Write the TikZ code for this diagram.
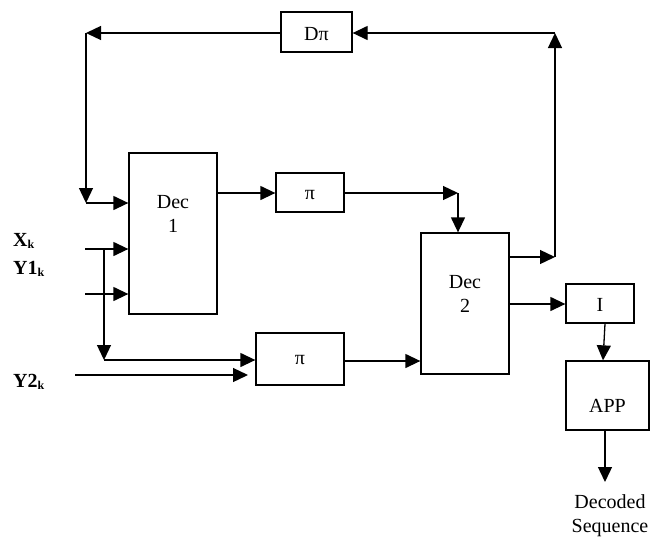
\documentclass[tikz,border=0pt]{standalone}
\usepackage{fontspec}
\setmainfont{Liberation Serif}
\usetikzlibrary{arrows.meta}
\begin{document}
\begin{tikzpicture}[x=1pt,y=-1pt,
  blk/.style={draw,line width=1.3pt,inner sep=0pt},
  con/.style={line width=1.3pt,-{Triangle[length=15pt,width=14pt]}},
  txt/.style={inner sep=0pt,font=\fontsize{20}{24}\selectfont},
  lbl/.style={inner sep=0pt,anchor=west,font=\fontsize{20}{24}\selectfont\bfseries}]
\useasboundingbox (0,0) rectangle (651,539);
% blocks
\node[blk,minimum width=71pt,minimum height=40pt] (dpi) at (316.5,32) {};
\node[txt] (dpit) at (316.5,34) {Dπ};
\node[blk,minimum width=88pt,minimum height=161pt] (dec1) at (173,233.5) {};
\node[txt,align=center] (dec1t) at (173,214) {Dec\\1};
\node[blk,minimum width=68pt,minimum height=39pt] (p1) at (310,192.5) {};
\node[txt] (p1t) at (310,195) {π};
\node[blk,minimum width=88pt,minimum height=141pt] (dec2) at (465,303.5) {};
\node[txt,align=center] (dec2t) at (465,294) {Dec\\2};
\node[blk,minimum width=88pt,minimum height=52pt] (p2) at (300,359) {};
\node[txt] (p2t) at (300,360) {π};
\node[blk,minimum width=68pt,minimum height=39pt] (ib) at (600,303.5) {};
\node[txt] (ibt) at (600,305) {I};
\node[blk,minimum width=83pt,minimum height=69pt] (app) at (607.5,395.5) {};
\node[txt] (appt) at (607.5,406) {APP};
\node[txt,align=center] (out) at (610,516) {Decoded\\Sequence};
% labels
\node[lbl] (xk) at (13,241) {X\raisebox{-2pt}{\fontsize{12}{14}\selectfont k}};
\node[lbl] (y1k) at (13,269) {Y1\raisebox{-2pt}{\fontsize{12}{14}\selectfont k}};
\node[lbl] (y2k) at (13,382) {Y2\raisebox{-2pt}{\fontsize{12}{14}\selectfont k}};
% coordinates
\coordinate (tl) at (86,33);
\coordinate (bl) at (86,203);
\coordinate (xs) at (85,249);
\coordinate (ys) at (85,294);
\coordinate (br) at (104,249);
\coordinate (brb) at (104,360);
\coordinate (y2s) at (75,375);
\coordinate (y2e) at (248,375);
\coordinate (pc) at (458,193);
\coordinate (rc) at (555,257);
\coordinate (rt) at (555,33);
\coordinate (ao) at (605,482);
% connectors
\draw[con] (dpi.west |- tl) -- (tl);
\draw[con] (tl) -- (bl);
\draw[con] (bl) -- (dec1.west |- bl);
\draw[con] (xs) -- (dec1.west |- xs);
\draw[con] (ys) -- (dec1.west |- ys);
\draw[con] (br) -- (brb);
\draw[con] (brb) -- (p2.west |- brb);
\draw[con] (y2s) -- (y2e);
\draw[con] (dec1.east |- pc) -- (p1.west |- pc);
\draw[con] (p1.east |- pc) -- (pc);
\draw[con] (pc) -- (pc |- dec2.north);
\draw[con] (p2.east |- 0,361) -- (dec2.west |- 0,361);
\draw[con] (dec2.east |- rc) -- (rc);
\draw[con] (rc) -- (rt);
\draw[con] (rt) -- (dpi.east |- rt);
\draw[con] (dec2.east |- 0,304) -- (ib.west |- 0,304);
\draw[con] (ib.south -| 605,0) -- (app.north -| 603,0);
\draw[con] (app.south -| ao) -- (ao);
\end{tikzpicture}
\end{document}
